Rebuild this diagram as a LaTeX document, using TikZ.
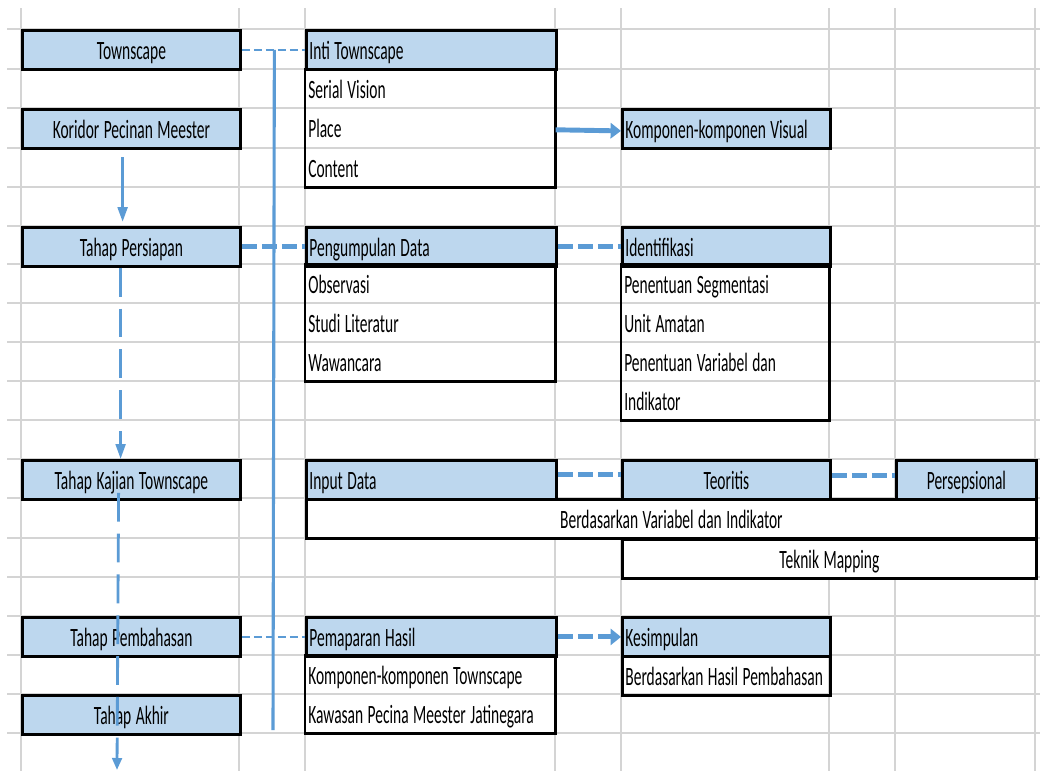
\documentclass[tikz,border=0pt]{standalone}
\usepackage{fontspec}
\setmainfont{Carlito}[FakeStretch=0.585]
\usetikzlibrary{arrows.meta}
\definecolor{headblue}{HTML}{BDD7EE}
\definecolor{lineblue}{HTML}{5B9BD5}
\definecolor{gridgray}{HTML}{D4D4D4}
\newcommand{\cellfont}{\fontsize{18.8}{20}\selectfont\hyphenpenalty=10000}

\begin{document}
\begin{tikzpicture}[x=0.025cm, y=-0.025cm,
  cell/.style={anchor=north west, inner xsep=0.075cm, inner ysep=0pt, minimum height=0.975cm, text height=15pt, text depth=1.5pt, font=\cellfont, align=left, execute at begin node={\spaceskip=3.2pt\xspaceskip=3.2pt}},
  cols/.style={text width={#1*0.025cm-0.15cm}},
  head/.style={cell, draw, line width=2pt, fill=headblue},
  mid/.style={align=center},
  merged/.style={cell, draw, line width=2pt, fill=white, align=center},
  frame/.style={draw, line width=2pt},
  gridline/.style={gridgray, line width=1.3pt},
  thin link/.style={lineblue, line width=2pt, dash pattern=on 0.2cm off 0.1cm},
  thick link/.style={lineblue, line width=3.5pt, dash pattern=on 0.37cm off 0.13cm},
  flow/.style={lineblue, line width=2pt, dash pattern=on 0.72cm off 0.3cm}]
\useasboundingbox (0,0) rectangle (1040,771);
\foreach \gx in {21,239,305,555,621,829,895,1035}
  \draw[gridline] (\gx,8) -- (\gx,771);
\foreach \gy in {29,69,108,148,187,226,264,303,342,381,420,459,498,538,577,616,655,694,733}
  \draw[gridline] (7,\gy) -- (1040,\gy);

\node[head, cols=218, mid] (town) at (21,29) {Townscape};
\node[head, cols=218, mid] (koridor) at (21,108) {Koridor Pecinan Meester};
\node[head, cols=218, mid] (persiapan) at (21,226) {Tahap Persiapan};
\node[head, cols=218, mid] (kajian) at (21,459) {Tahap Kajian Townscape};
\node[head, cols=218, mid] (bahas) at (21,616) {Tahap Pembahasan};
\node[head, cols=218, mid] (akhir) at (21,694) {Tahap Akhir};

\node[head, cols=250] (inti) at (305,29) {Inti Townscape};
\node[cell, cols=250] (serial) at (305,69) {Serial Vision};
\node[cell, cols=250] (place) at (305,108) {Place};
\node[cell, cols=250] (content) at (305,148) {Content};
\draw[frame] (serial.north west) rectangle (content.south east);

\node[head, cols=250] (kumpul) at (305,226) {Pengumpulan Data};
\node[cell, cols=250] (obs) at (305,264) {Observasi};
\node[cell, cols=250] (studi) at (305,303) {Studi Literatur};
\node[cell, cols=250] (wawan) at (305,342) {Wawancara};
\draw[frame] (obs.north west) rectangle (wawan.south east);

\node[head, cols=250] (input) at (305,459) {Input Data};
\node[merged, cols=730] (dasar) at (305,498) {Berdasarkan Variabel dan Indikator};

\node[head, cols=250] (papar) at (305,616) {Pemaparan Hasil};
\node[cell, cols=250] (komp) at (305,655) {Komponen-komponen Townscape};
\node[cell, cols=250] (kawasan) at (305,694) {Kawasan Pecina Meester Jatinegara};
\draw[frame] (komp.north west) rectangle (kawasan.south east);

\node[head, cols=208] (visual) at (621,108) {Komponen-komponen Visual};
\node[head, cols=208] (ident) at (621,226) {Identifikasi};
\node[cell, cols=208] (seg) at (621,264) {Penentuan Segmentasi};
\node[cell, cols=208] (unit) at (621,303) {Unit Amatan};
\node[cell, cols=208] (var) at (621,342) {Penentuan Variabel dan};
\node[cell, cols=208] (indik) at (621,381) {Indikator};
\draw[frame] (seg.north west) rectangle (indik.south east);

\node[head, cols=208, mid] (teori) at (621,459) {Teoritis};
\node[merged, cols=414] (mapping) at (621,538) {Teknik Mapping};
\node[head, cols=208] (simpul) at (621,616) {Kesimpulan};
\node[cell, cols=208, frame] (hasil) at (621,655) {Berdasarkan Hasil Pembahasan};

\node[head, cols=140, mid] (persep) at (895,459) {Persepsional};

\path (town.east) -- coordinate[pos=0.515] (spinetop) (inti.west);
\coordinate (spinebot) at (273,730);
\coordinate (exit) at (117,770);

\draw[thin link] (town.east) -- (inti.west);
\draw[lineblue, line width=2.2pt] (spinetop) -- (spinebot);
\draw[thick link] (persiapan.east) -- (kumpul.west);
\draw[thick link] (kumpul.east) -- (ident.west);
\draw[thick link] ([yshift=0.14cm]input.east) -- ([yshift=0.14cm]teori.west);
\draw[thick link] ([yshift=0.11cm]teori.east) -- ([yshift=0.11cm]persep.west);
\draw[thin link] (bahas.east) -- (papar.west);
\draw[thick link, -{Triangle[length=0.26cm, width=0.4cm]}] (papar.east) -- (simpul.west);
\draw[lineblue, line width=3.5pt, -{Triangle[length=0.26cm, width=0.38cm]}] ([yshift=-0.05cm]place.east) -- ([yshift=-0.05cm]visual.west);
\draw[lineblue, line width=2.2pt, -{Triangle[length=0.37cm, width=0.24cm]}, shorten <=0.18cm, shorten >=0.1cm] ([xshift=-0.22cm]koridor.south) -- ([xshift=-0.22cm]persiapan.north);
\draw[flow, -{Triangle[length=0.37cm, width=0.24cm]}] ([xshift=-0.27cm]persiapan.south) -- ([xshift=-0.27cm]kajian.north);
\draw[flow, -{Triangle[length=0.3cm, width=0.24cm]}] ([xshift=-0.32cm, yshift=0.2cm]kajian.south) -- (exit);
\end{tikzpicture}
\end{document}
